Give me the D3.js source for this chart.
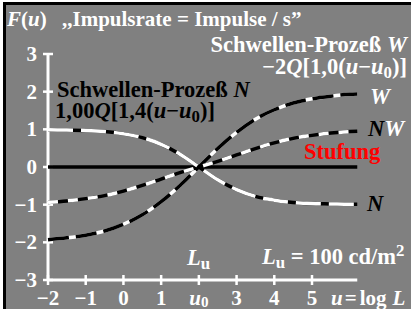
<!DOCTYPE html>
<html>
<head>
<meta charset="utf-8">
<script src="https://cdn.jsdelivr.net/npm/d3@7"></script>
<style>
  body { margin: 0; background: #fff; }
  svg { display: block; font-family: "Liberation Serif", "Times New Roman", serif; font-weight: bold; }
</style>
</head>
<body>
<svg id="chart" width="411" height="309"></svg>
<script>
// values
var uValues = [-2, -1.5, -1, -0.5, 0, 0.5, 1, 1.5, 2, 2.5, 3, 3.5, 4, 4.5, 5, 5.5, 6, 6.2];
var nValues = [0.99, 0.98, 0.97, 0.94, 0.88, 0.78, 0.60, 0.34, 0, -0.34, -0.60, -0.78, -0.88, -0.94, -0.97, -0.98, -0.99, -0.99];
var wValues = [-1.93, -1.88, -1.81, -1.70, -1.52, -1.27, -0.92, -0.49, 0, 0.49, 0.92, 1.27, 1.52, 1.70, 1.81, 1.88, 1.93, 1.94];
var nwValues = [-0.94, -0.90, -0.84, -0.76, -0.64, -0.49, -0.32, -0.15, 0, 0.15, 0.32, 0.49, 0.64, 0.76, 0.84, 0.90, 0.94, 0.95];
var stepU = [-2, 6.2];
var stepValues = [0, 0];

var xTicks = [-2, -1, 0, 1, 2, 3, 4, 5];
var xTickLabels = ["\u22122", "\u22121", "0", "1", "u0", "3", "4", "5"];
var yTicks = [-3, -2, -1, 0, 1, 2, 3];
var yTickLabels = ["\u22123", "\u22122", "\u22121", "0", "1", "2", "3"];

var svg = d3.select("#chart");

var x = d3.scaleLinear().domain([-2, 5]).range([48, 312]);
var y = d3.scaleLinear().domain([-3, 3]).range([280, 54]);

// frame
svg.append("rect").attr("x", 6).attr("y", 5).attr("width", 405).attr("height", 304).attr("fill", "#808080");
svg.append("rect").attr("x", 3).attr("y", 2).attr("width", 408).attr("height", 3).attr("fill", "#000");
svg.append("rect").attr("x", 3).attr("y", 2).attr("width", 3).attr("height", 307).attr("fill", "#000");

// axes
var axisCol = "#fff";
svg.append("line")
	.attr("x1", x(-2)).attr("x2", x(6.2))
	.attr("y1", y(-3)).attr("y2", y(-3))
	.attr("stroke", axisCol).attr("stroke-width", 3);
svg.append("line")
	.attr("x1", x(-2)).attr("x2", x(-2))
	.attr("y1", y(-3)).attr("y2", y(3))
	.attr("stroke", axisCol).attr("stroke-width", 3);

svg.selectAll(".xtick")
	.data(xTicks)
	.enter().append("line")
	.attr("class", "xtick")
	.attr("x1", function(d) { return x(d); })
	.attr("x2", function(d) { return x(d); })
	.attr("y1", y(-3) - 5).attr("y2", y(-3) + 5)
	.attr("stroke", axisCol).attr("stroke-width", 2.5);

svg.selectAll(".ytick")
	.data(yTicks)
	.enter().append("line")
	.attr("class", "ytick")
	.attr("x1", x(-2) - 5).attr("x2", x(-2) + 5)
	.attr("y1", function(d) { return y(d); })
	.attr("y2", function(d) { return y(d); })
	.attr("stroke", axisCol).attr("stroke-width", 2.5);

var fs = 21;    // title, ticks
var lfs = 22.5; // labels

// tick labels
svg.selectAll(".xlab")
	.data(xTicks)
	.enter().append("text")
	.attr("class", "xlab")
	.attr("x", function(d) { return x(d); })
	.attr("y", 305)
	.attr("text-anchor", "middle")
	.attr("fill", "#fff")
	.attr("font-size", fs)
	.each(function(d, i) {
		var t = d3.select(this);
		if (xTickLabels[i] == "u0") {
			t.append("tspan").attr("font-style", "italic").text("u");
			t.append("tspan").attr("font-size", fs * 0.72).attr("dy", 2).text("0");
		} else {
			t.text(xTickLabels[i]);
		}
	});

svg.selectAll(".ylab")
	.data(yTicks)
	.enter().append("text")
	.attr("class", "ylab")
	.attr("x", 37)
	.attr("y", function(d) { return y(d) + 7; })
	.attr("text-anchor", "end")
	.attr("fill", "#fff")
	.attr("font-size", fs)
	.text(function(d, i) { return yTickLabels[i]; });

// curves
var line = d3.line()
	.x(function(d) { return x(d[0]); })
	.y(function(d) { return y(d[1]); })
	.curve(d3.curveMonotoneX);

function drawCurve(us, vs, base, dashCol, dash) {
	var pts = d3.zip(us, vs);
	svg.append("path").datum(pts)
		.attr("d", line)
		.attr("fill", "none").attr("stroke", base).attr("stroke-width", 3.5);
	if (dashCol) {
		svg.append("path").datum(pts)
			.attr("d", line)
			.attr("fill", "none").attr("stroke", dashCol).attr("stroke-width", 3.5)
			.attr("stroke-dasharray", dash);
	}
}

drawCurve(stepU, stepValues, "#000", null, null);
drawCurve(uValues, wValues, "#fff", "#000", "21,7");
drawCurve(uValues, nwValues, "#000", "#fff", "10,10");
drawCurve(uValues, nValues, "#000", "#fff", "25,8");

// texts
function addText(px, py, col, anchor, size, parts) {
	var t = svg.append("text")
		.attr("x", px).attr("y", py)
		.attr("fill", col).attr("font-size", size)
		.attr("text-anchor", anchor);
	parts.forEach(function(p) {
		var s = t.append("tspan").text(p.t);
		if (p.i) s.attr("font-style", "italic");
		if (p.sub) s.attr("font-size", size * 0.75).attr("dy", 4);
		if (p.up) s.attr("dy", -4);
		if (p.sup) s.attr("font-size", size * 0.75).attr("dy", -8);
		if (p.dx) s.attr("dx", p.dx);
		if (p.c) s.attr("fill", p.c);
	});
	return t;
}

addText(7, 26, "#fff", "start", fs, [{t: "F", i: 1}, {t: "("}, {t: "u", i: 1}, {t: ")"}]);
addText(62, 26, "#fff", "start", fs, [{t: ",,Impulsrate = Impulse / s\u201D"}]);

addText(407, 52, "#fff", "end", lfs, [{t: "Schwellen-Proze\u00DF "}, {t: "W", i: 1}]);
addText(407, 74, "#fff", "end", lfs, [{t: "\u22122"}, {t: "Q", i: 1}, {t: "[1,0("}, {t: "u", i: 1}, {t: "\u2212"}, {t: "u", i: 1}, {t: "0", sub: 1}, {t: ")]", up: 1}]);

addText(57, 97, "#000", "start", lfs, [{t: "Schwellen-Proze\u00DF "}, {t: "N", i: 1}]);
addText(55, 118, "#000", "start", lfs, [{t: "1,00"}, {t: "Q", i: 1}, {t: "[1,4("}, {t: "u", i: 1}, {t: "\u2212"}, {t: "u", i: 1}, {t: "0", sub: 1}, {t: ")]", up: 1}]);

addText(370, 104, "#fff", "start", lfs, [{t: "W", i: 1}]);
addText(368, 136, "#000", "start", lfs, [{t: "N", i: 1}, {t: "W", i: 1, c: "#fff"}]);
addText(304, 159, "#ff0000", "start", lfs, [{t: "Stufung"}]);
addText(367, 211, "#000", "start", lfs, [{t: "N", i: 1}]);

addText(187, 265, "#fff", "start", lfs, [{t: "L", i: 1}, {t: "u", sub: 1}]);
addText(262, 264, "#fff", "start", lfs, [{t: "L", i: 1}, {t: "u", sub: 1}, {t: " = 100 cd/m", up: 1}, {t: "2", sup: 1}]);

addText(331, 305, "#fff", "start", fs, [{t: "u", i: 1}, {t: "=", dx: 2}, {t: "log", dx: 3}, {t: "L", i: 1, dx: 6}]);
</script>
</body>
</html>
